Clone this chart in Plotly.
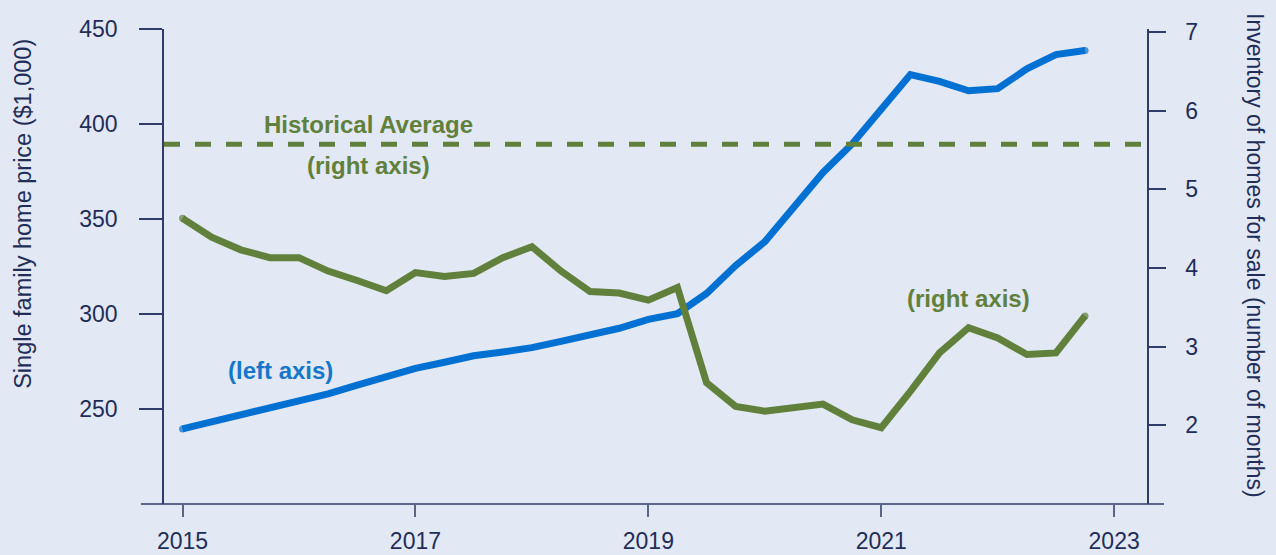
import plotly.graph_objects as go

# Quarterly observations, 2015 Q1 .. 2022 Q4
quarters = [2015 + q / 4 for q in range(32)]

home_price = [239.5, 243.2, 246.8, 250.2, 254.0, 258.0, 262.6, 267.0,
              271.4, 274.6, 278.0, 280.0, 282.3, 285.6, 288.6, 292.5,
              297.2, 300.2, 310.8, 325.5, 338.0, 356.5, 374.5, 389.5,
              408.0, 426.0, 422.4, 417.5, 418.6, 429.0, 436.5, 438.7]

inventory = [4.63, 4.39, 4.23, 4.13, 4.13, 3.96, 3.84, 3.71,
             3.94, 3.89, 3.93, 4.13, 4.27, 3.96, 3.70, 3.68,
             3.59, 3.75, 2.54, 2.24, 2.18, 2.23, 2.27, 2.07,
             1.97, 2.43, 2.92, 3.24, 3.11, 2.90, 2.92, 3.39]

historical_avg = 5.57

x_ticks = [2015, 2017, 2019, 2021, 2023]
left_ticks = [250, 300, 350, 400, 450]
right_ticks = [2, 3, 4, 5, 6, 7]

BG = "#E2E8F4"
BLUE = "#0070D2"
GREEN = "#61803B"
NAVY = "#222D57"
AXIS = "#2F3B68"
FONT = "Arial, Liberation Sans, sans-serif"

end_sizes = [7] + [0] * (len(quarters) - 2) + [7]

fig = go.Figure()
fig.add_trace(go.Scatter(
    x=quarters, y=home_price, mode="lines+markers",
    line=dict(color=BLUE, width=7),
    marker=dict(size=end_sizes, color=BLUE, line=dict(width=0)),
    yaxis="y", showlegend=False, hoverinfo="skip"))
fig.add_trace(go.Scatter(
    x=quarters, y=inventory, mode="lines+markers",
    line=dict(color=GREEN, width=7),
    marker=dict(size=end_sizes, color=GREEN, line=dict(width=0)),
    yaxis="y2", showlegend=False, hoverinfo="skip"))

fig.add_shape(type="line", xref="paper", yref="y2", x0=0, x1=1,
              y0=historical_avg, y1=historical_avg,
              line=dict(color=GREEN, width=5, dash="16px,15px"))
# extended x axis baseline
fig.add_shape(type="line", xref="paper", yref="paper",
              x0=-23 / 983.3, x1=1 + 17 / 983.3, y0=0, y1=0,
              line=dict(color=AXIS, width=1.5))

ann_font_g = dict(family=FONT, size=24, color=GREEN, weight="bold")
fig.add_annotation(text="<b>Historical Average</b>", x=2016.6, y=5.82, yref="y2",
                   showarrow=False, font=ann_font_g)
fig.add_annotation(text="<b>(right axis)</b>", x=2016.6, y=5.3, yref="y2",
                   showarrow=False, font=ann_font_g)
fig.add_annotation(text="<b>(left axis)</b>", x=2015.84, y=270.5, yref="y",
                   showarrow=False,
                   font=dict(family=FONT, size=24, color="#1477C9", weight="bold"))
fig.add_annotation(text="<b>(right axis)</b>", x=2021.75, y=3.61, yref="y2",
                   showarrow=False, font=ann_font_g)

fig.add_annotation(text="Single family home price ($1,000)", textangle=-90,
                   xref="paper", yref="paper", x=-141 / 983.3, y=0.611,
                   xanchor="center", yanchor="middle", showarrow=False,
                   font=dict(family=FONT, size=23.5, color=NAVY))
fig.add_annotation(text="Inventory of homes for sale (number of months)", textangle=90,
                   xref="paper", yref="paper", x=1 + 108 / 983.3, y=0.522,
                   xanchor="center", yanchor="middle", showarrow=False,
                   font=dict(family=FONT, size=23, color=NAVY))

fig.update_layout(
    width=1276, height=555,
    margin=dict(l=164, r=129, t=29, b=51, autoexpand=False),
    paper_bgcolor=BG, plot_bgcolor=BG,
    font=dict(family=FONT, color=NAVY, size=23),
    xaxis=dict(range=[2014.841, 2023.282], tickvals=x_ticks,
               ticktext=[str(v) for v in x_ticks], automargin=False,
               showgrid=False, zeroline=False, showline=False,
               ticks="outside", ticklen=12, tickwidth=1.5, tickcolor="#5A6485",
               ticklabelstandoff=4, tickfont=dict(size=23, color=NAVY)),
    yaxis=dict(range=[200, 450], tickvals=left_ticks, automargin=False,
               showgrid=False, zeroline=False, showline=True,
               linecolor=AXIS, linewidth=1.5,
               ticks="outside", ticklen=23, tickwidth=1.5, tickcolor=AXIS,
               ticklabelstandoff=17, tickfont=dict(size=23, color=NAVY)),
    yaxis2=dict(range=[1, 7.036], tickvals=right_ticks, overlaying="y", side="right",
                automargin=False,
                showgrid=False, zeroline=False, showline=True,
                linecolor=AXIS, linewidth=1.5,
                ticks="outside", ticklen=17, tickwidth=1.5, tickcolor=AXIS,
                ticklabelstandoff=15, tickfont=dict(size=23, color=NAVY)),
)

fig.write_html("out.html", config={"displayModeBar": False},
               post_script="document.body.style.margin='0';")
